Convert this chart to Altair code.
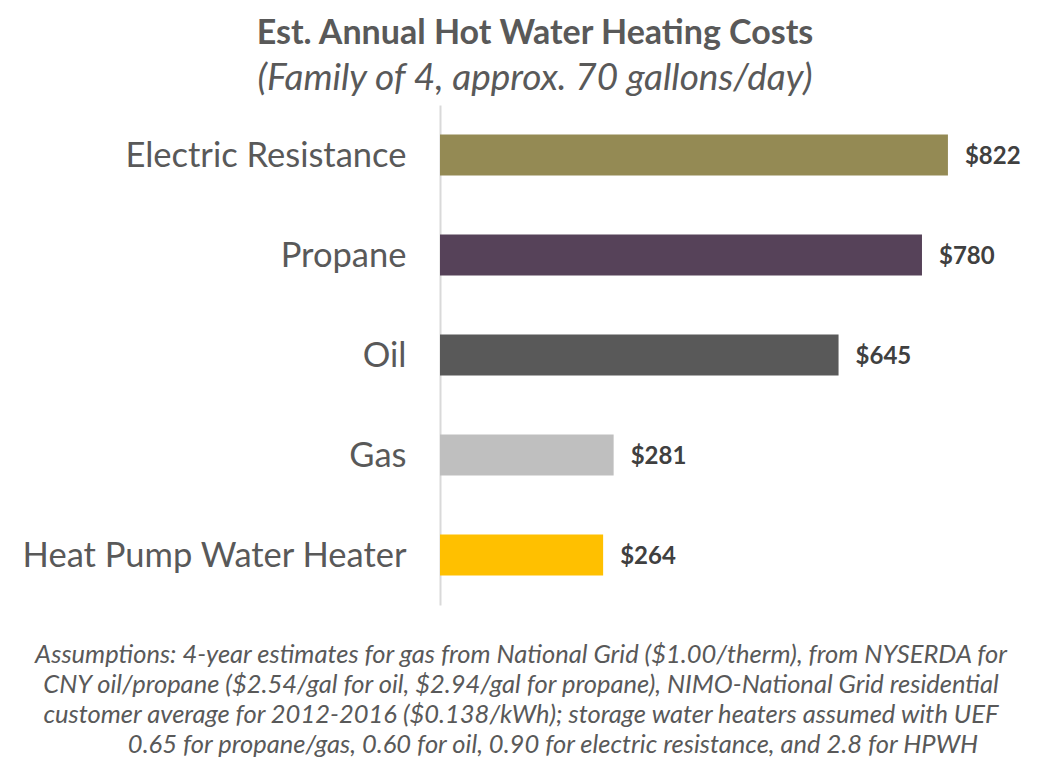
import altair as alt
import pandas as pd

categories = ["Electric Resistance", "Propane", "Oil", "Gas", "Heat Pump Water Heater"]
costs = [822, 780, 645, 281, 264]
colors = ["#948A54", "#564259", "#595959", "#BFBFBF", "#FFC000"]
value_labels = ["$822", "$780", "$645", "$281", "$264"]

title_text = "Est. Annual Hot Water Heating Costs"
subtitle_text = "(Family of 4, approx. 70 gallons/day)"
foot_lines = [
    "Assumptions: 4-year estimates for gas from National Grid ($1.00/therm), from NYSERDA for",
    "CNY oil/propane ($2.54/gal for oil, $2.94/gal for propane), NIMO-National Grid residential",
    "customer average for 2012-2016 ($0.138/kWh); storage water heaters assumed with UEF",
    "0.65 for propane/gas, 0.60 for oil, 0.90 for electric resistance, and 2.8 for HPWH",
]

FONT = "Lato"

df = pd.DataFrame({"cat": categories, "cost": costs, "color": colors, "label": value_labels})

y_enc = alt.Y("cat:N", sort=categories, title=None,
              scale=alt.Scale(paddingInner=0.59, paddingOuter=0.295),
              axis=alt.Axis(labelFontSize=34.5, labelColor="#595959", labelFont=FONT,
                            labelPadding=34, labelOffset=2, ticks=False, domainColor="#D9D9D9",
                            domainWidth=2, grid=False, labelLimit=600))
x_enc = alt.X("cost:Q", scale=alt.Scale(domain=[0, 971], nice=False), axis=None)

bars = alt.Chart(df).mark_bar().encode(
    y=y_enc, x=x_enc, color=alt.Color("color:N", scale=None)
)

labels = alt.Chart(df).mark_text(
    align="left", baseline="middle", dx=17, dy=2, fontSize=24, fontWeight="bold",
    color="#404040", font=FONT
).encode(y=alt.Y("cat:N", sort=categories), x="cost:Q", text="label:N")

foot_df1 = pd.DataFrame({"t": ["\n".join(foot_lines[:3])]})
foot1 = alt.Chart(foot_df1).mark_text(
    align="center", baseline="top", fontSize=25.5, fontStyle="italic", color="#595959",
    font=FONT, lineBreak="\n", lineHeight=30
).encode(text="t:N", x=alt.value(81), y=alt.value(538))

foot_df2 = pd.DataFrame({"t": [foot_lines[3]]})
foot2 = alt.Chart(foot_df2).mark_text(
    align="center", baseline="top", fontSize=25.5, fontStyle="italic", color="#595959",
    font=FONT
).encode(text="t:N", x=alt.value(113), y=alt.value(628))

chart = alt.layer(bars, labels, foot1, foot2).properties(
    width=600, height=500, background="white",
    title=alt.TitleParams(
        text=title_text, subtitle=subtitle_text, anchor="middle", frame="group",
        dx=-205, offset=8, font=FONT, fontSize=34, fontWeight="bold", color="#595959",
        subtitleFont=FONT, subtitleFontSize=37, subtitleFontStyle="italic",
        subtitleColor="#595959", subtitlePadding=10
    ),
    autosize=alt.AutoSizeParams(type="none"),
    padding={"left": 432, "top": 97, "right": 15, "bottom": 165},
).configure_view(stroke=None)

chart.save("out.html", embed_options={"renderer": "svg", "actions": False})
